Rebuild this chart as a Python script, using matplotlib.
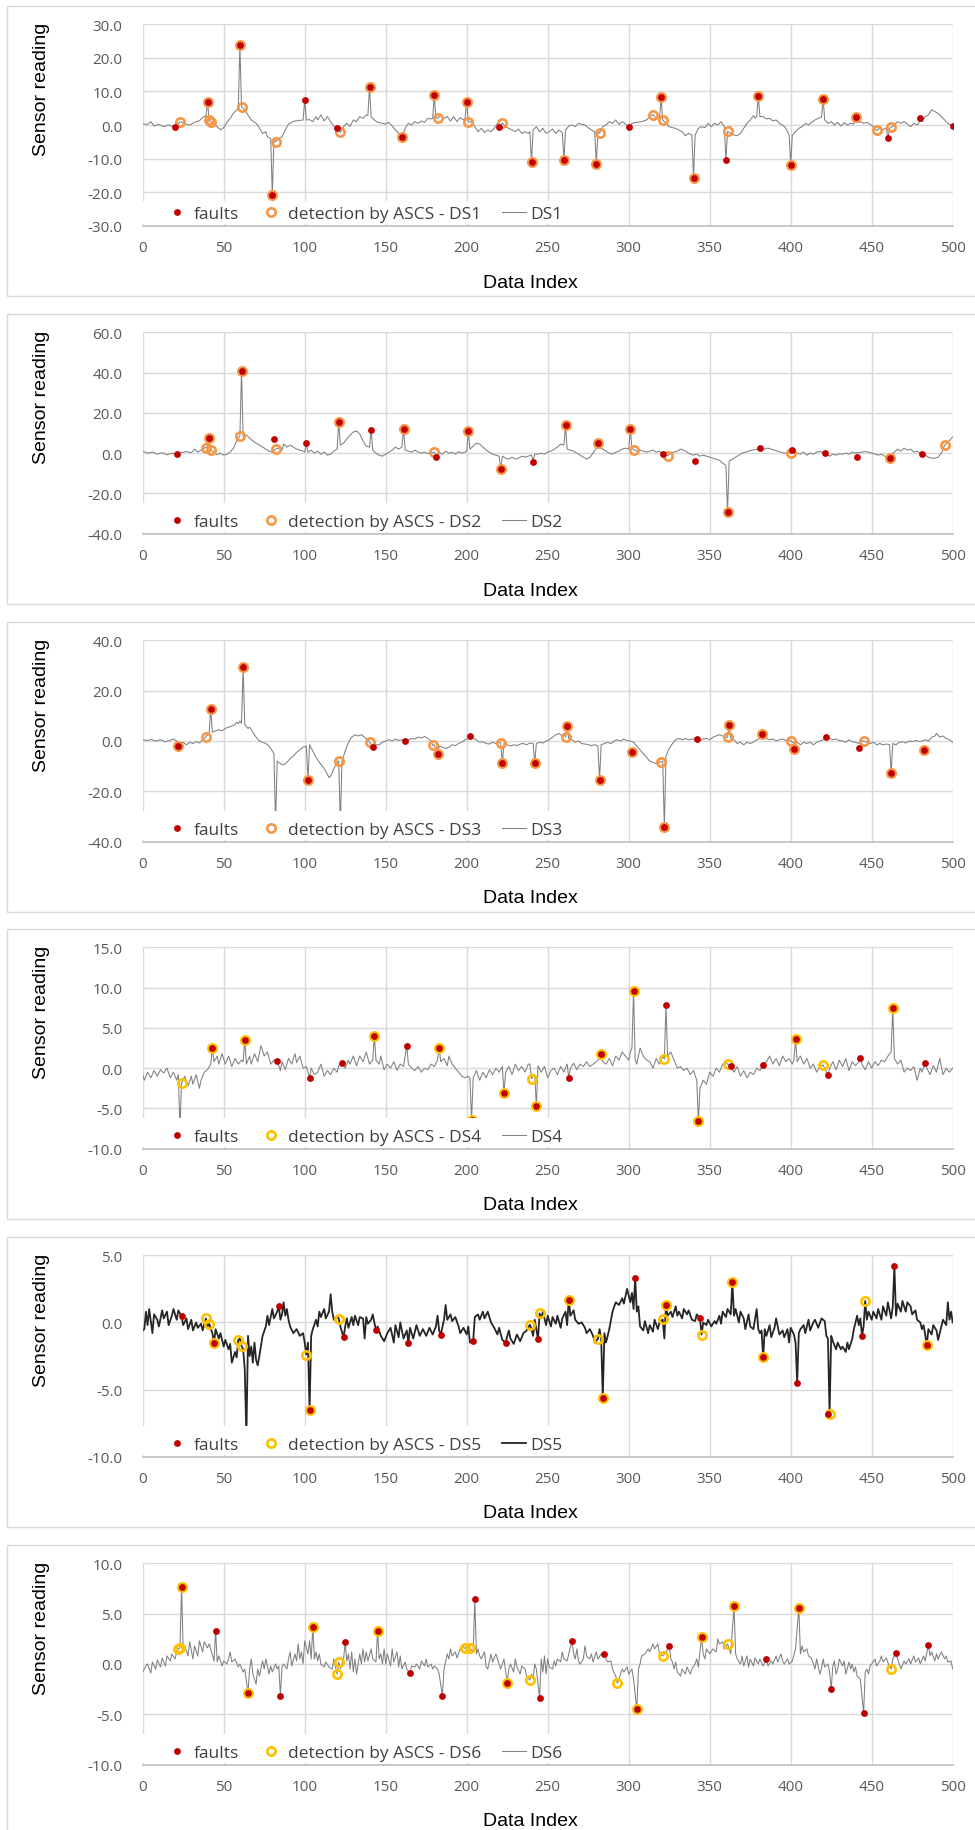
import matplotlib.pyplot as plt
from matplotlib.patches import Rectangle
from matplotlib.lines import Line2D

plt.rcParams['axes.unicode_minus'] = False

# ---------------- data ----------------
x_ticks = list(range(0, 501, 50))

# DS1
ds1_line = [(0,0.3),(3,0.2),(5,1.0),(7,-0.3),(10,0.2),(13,-0.5),(16,0.0),(19,-0.6),(20,-0.5),(22,0.3),(23,1.0),(26,0.4),(29,0.0),(32,0.8),(35,1.3),(37,2.2),(38,2.6),(39,2.4),(40,6.9),(41,1.6),(42,1.0),(44,0.5),(46,-0.6),(48,-1.4),(50,-0.8),(52,0.8),(54,2.0),(56,3.5),(58,4.5),(59,5.0),(60,23.7),(61,5.4),(63,4.5),(65,3.0),(67,1.5),(70,0.5),(72,-0.8),(74,-2.5),(76,-2.0),(77,-3.5),(79,-4.0),(80,-20.8),(81,-4.5),(82,-5.0),(84,-4.0),(86,-3.5),(88,-1.5),(90,0.3),(92,0.8),(94,1.2),(97,1.4),(99,1.5),(100,7.4),(101,1.5),(103,1.6),(105,1.0),(107,2.5),(108,1.5),(110,3.0),(112,1.2),(114,2.5),(116,1.0),(118,-0.3),(120,-1.0),(122,-2.2),(124,-0.5),(126,0.5),(128,-0.4),(130,1.5),(132,1.0),(134,2.5),(136,2.0),(138,3.0),(139,2.8),(140,11.4),(141,2.5),(143,1.5),(145,0.8),(148,0.5),(150,0.3),(152,0.8),(154,-0.3),(156,-1.5),(158,-2.5),(160,-3.5),(162,-1.0),(164,0.5),(166,0.0),(168,1.0),(170,0.5),(172,1.2),(174,0.8),(176,2.0),(178,1.8),(179,2.0),(180,8.8),(181,2.2),(182,2.0),(184,3.0),(186,2.0),(188,2.5),(190,1.2),(192,2.5),(194,1.0),(196,2.2),(198,1.5),(199,2.0),(200,7.0),(201,0.9),(203,1.0),(205,-0.5),(207,-2.0),(209,-1.0),(211,-2.2),(213,-1.5),(215,-2.0),(217,-1.0),(219,0.5),(220,-0.7),(222,0.6),(224,-0.5),(226,-1.0),(228,-1.5),(230,-2.0),(232,-1.2),(234,-2.5),(236,-2.0),(238,-2.5),(239,-2.0),(240,-10.9),(241,-1.5),(243,-0.5),(245,-2.0),(247,-1.0),(249,-2.5),(251,-2.0),(253,-1.2),(255,-2.5),(257,-1.5),(259,-2.2),(260,-10.4),(261,-1.5),(263,-0.3),(265,0.0),(267,-0.5),(269,0.5),(271,0.2),(273,0.0),(275,-0.8),(277,-1.5),(279,-2.0),(280,-11.5),(281,-2.0),(282,-2.4),(284,-0.5),(286,0.0),(288,1.0),(290,0.5),(292,1.5),(294,0.2),(296,1.0),(298,0.3),(300,-0.7),(302,0.5),(305,0.8),(308,1.0),(311,1.5),(313,2.5),(315,3.1),(317,2.0),(319,1.8),(320,8.2),(321,1.5),(323,0.5),(325,-0.5),(327,-0.8),(329,-1.0),(331,-1.5),(333,-2.0),(335,-3.2),(337,-2.5),(339,-3.0),(340,-15.7),(341,-3.0),(343,-1.0),(345,-0.5),(347,-0.8),(349,0.5),(351,-0.5),(353,0.5),(355,0.0),(357,1.0),(359,-0.5),(360,-10.3),(361,-1.9),(363,-2.5),(365,-3.0),(367,-3.2),(369,-2.5),(371,-1.0),(373,0.5),(375,1.5),(377,2.8),(378,2.0),(379,2.5),(380,8.5),(381,2.5),(383,2.5),(385,1.8),(387,2.0),(389,1.2),(391,1.5),(393,0.5),(395,0.0),(397,-1.0),(398,-2.0),(399,-3.0),(400,-11.8),(401,-3.0),(403,-2.0),(405,-1.0),(407,-0.5),(409,0.5),(411,0.0),(413,0.8),(415,1.5),(417,2.0),(419,2.3),(420,7.8),(421,1.5),(423,0.5),(425,1.0),(427,0.0),(429,0.8),(431,-0.3),(433,0.7),(435,0.0),(437,0.5),(439,0.3),(440,2.5),(441,0.8),(443,1.0),(445,0.5),(447,0.8),(449,0.2),(451,-0.5),(453,-1.6),(455,-1.0),(457,-1.5),(459,-0.8),(460,-4.0),(461,-1.0),(462,-0.7),(464,0.0),(466,1.0),(468,0.5),(470,1.0),(472,0.3),(474,-0.5),(476,0.5),(478,0.0),(479,0.5),(480,2.1),(481,1.0),(483,2.5),(485,3.0),(487,4.5),(489,4.0),(491,3.5),(493,2.5),(495,1.5),(497,0.5),(500,-0.3)]
ds1_fault_x = [20,40,60,80,100,120,140,160,180,200,220,240,260,280,300,320,340,360,380,400,420,440,460,480,500]
ds1_fault_y = [-0.5,6.9,23.7,-20.8,7.4,-1.0,11.4,-3.5,8.8,7.0,-0.7,-10.9,-10.4,-11.5,-0.7,8.2,-15.7,-10.3,8.5,-11.8,7.8,2.5,-4.0,2.1,-0.3]
ds1_det_x = [23,40,41,42,60,61,80,82,122,140,160,180,182,200,201,222,240,260,280,282,315,320,321,340,361,380,400,420,440,453,462]
ds1_det_y = [1.0,6.9,1.6,1.0,23.7,5.4,-20.8,-5.0,-2.2,11.4,-3.5,8.8,2.0,7.0,0.9,0.6,-10.9,-10.4,-11.5,-2.4,3.1,8.2,1.5,-15.7,-1.9,8.5,-11.8,7.8,2.5,-1.6,-0.7]

# DS2
ds2_line = [(0,1.0),(3,0.0),(6,0.5),(9,-0.5),(12,0.2),(15,-0.8),(18,0.0),(21,-0.5),(24,0.3),(27,0.8),(30,0.2),(32,2.0),(34,0.5),(36,1.5),(38,2.5),(40,3.0),(41,7.3),(42,1.5),(44,0.5),(46,-0.8),(48,0.0),(50,-1.0),(52,-0.5),(54,0.5),(56,2.5),(58,6.0),(60,8.5),(61,40.8),(62,8.0),(64,9.0),(66,7.5),(68,6.0),(70,5.0),(72,4.0),(74,3.0),(76,2.0),(78,1.0),(80,0.5),(82,2.0),(84,2.5),(86,1.5),(87,4.5),(89,3.0),(91,4.0),(93,3.0),(95,2.0),(97,1.5),(99,1.0),(100,0.5),(101,5.0),(102,0.5),(104,1.5),(106,0.0),(108,1.0),(110,-0.5),(112,0.5),(114,-1.0),(116,-0.5),(118,1.0),(120,2.0),(121,15.6),(122,4.0),(124,5.0),(126,7.0),(128,9.0),(130,10.5),(132,11.0),(134,9.5),(136,6.0),(138,3.5),(140,3.0),(141,11.3),(142,1.5),(144,0.0),(146,-1.0),(148,-1.5),(150,-0.5),(152,0.5),(154,1.5),(156,3.0),(158,2.0),(160,3.0),(161,12.0),(162,1.5),(164,1.0),(166,0.5),(168,1.5),(170,0.5),(172,0.0),(174,0.5),(176,-0.3),(178,0.2),(180,0.5),(181,-1.0),(183,0.5),(185,-0.5),(187,1.0),(189,0.0),(191,0.5),(193,-0.5),(195,0.8),(197,0.0),(199,0.5),(200,1.0),(201,11.0),(202,2.0),(204,3.5),(206,5.0),(208,4.5),(210,3.0),(212,1.5),(214,0.5),(216,-0.5),(218,-1.0),(220,-1.5),(221,-7.8),(222,-1.5),(224,-2.5),(226,-3.0),(228,-2.0),(230,-3.0),(232,-2.5),(234,-1.5),(236,-2.0),(238,-1.5),(240,-1.0),(241,-3.5),(242,-0.5),(244,-0.5),(246,0.0),(248,-0.5),(250,0.5),(252,1.0),(254,2.0),(256,3.0),(258,4.5),(260,4.0),(261,13.8),(262,2.0),(264,1.5),(266,1.0),(268,0.0),(270,-1.0),(272,-2.0),(274,-3.0),(276,-2.0),(278,0.0),(280,2.5),(281,5.2),(282,3.0),(284,2.0),(286,1.0),(288,0.0),(290,-0.5),(292,0.5),(294,1.0),(296,2.0),(298,2.5),(300,2.0),(301,11.8),(302,2.5),(303,1.8),(305,1.0),(307,1.5),(309,1.0),(311,0.5),(313,1.0),(315,1.5),(317,0.5),(319,1.0),(321,-0.3),(323,-1.0),(324,-1.3),(326,0.0),(328,0.5),(330,1.0),(332,2.0),(334,1.5),(336,0.5),(338,-0.5),(340,-1.0),(342,-0.5),(344,-1.5),(346,-1.0),(348,-1.5),(350,-2.0),(352,-2.5),(354,-3.0),(356,-3.5),(358,-5.0),(360,-6.0),(361,-29.2),(362,-4.0),(364,-3.0),(366,-2.0),(368,-1.0),(370,0.0),(372,0.5),(374,1.0),(376,1.5),(378,1.8),(380,2.0),(382,2.2),(384,2.0),(386,2.5),(388,2.0),(390,1.5),(392,1.0),(394,0.5),(396,0.0),(398,0.2),(400,0.0),(402,1.0),(404,0.0),(406,-0.5),(408,0.5),(410,-1.0),(412,0.0),(414,-0.5),(416,0.5),(418,1.0),(420,0.0),(422,-0.5),(424,-1.5),(426,-0.5),(428,-1.0),(430,-0.3),(432,-0.5),(434,0.0),(436,-0.5),(438,0.5),(440,0.0),(442,0.3),(444,0.5),(446,0.8),(448,0.5),(450,0.0),(452,-0.5),(454,-1.0),(456,-0.5),(458,-1.5),(460,-2.0),(461,-2.5),(462,-1.0),(464,0.5),(466,2.0),(468,1.0),(470,2.5),(472,1.5),(474,2.0),(476,0.5),(478,1.0),(480,0.0),(481,-0.5),(483,-1.0),(485,-2.0),(487,-2.5),(489,-2.5),(491,-2.0),(493,0.0),(495,3.8),(497,5.5),(500,8.0)]
ds2_fault_x = [21,41,61,81,101,121,141,161,181,201,221,241,261,281,301,321,341,361,381,401,421,441,461,481]
ds2_fault_y = [-0.5,7.3,40.8,7.0,5.0,15.6,11.3,12.0,-2.0,11.0,-7.8,-4.5,13.8,5.2,11.8,-0.3,-3.8,-29.2,2.7,1.5,0.0,-2.0,-2.5,-0.5]
ds2_det_x = [39,41,42,60,61,82,121,161,180,201,221,261,281,301,303,324,361,400,461,495]
ds2_det_y = [2.5,7.3,1.5,8.5,40.8,2.0,15.6,12.0,0.5,11.0,-7.8,13.8,5.2,11.8,1.8,-1.3,-29.2,0.0,-2.5,3.8]

# DS3
ds3_line = [(0,0.5),(3,0.2),(5,0.6),(8,0.0),(11,0.5),(14,-0.3),(17,0.3),(19,0.8),(21,0.0),(22,-2.1),(23,-1.0),(25,-0.5),(27,-1.5),(29,-0.5),(31,-1.0),(33,-0.3),(35,-0.8),(37,0.5),(39,1.7),(41,3.0),(42,12.7),(43,3.5),(45,4.0),(47,4.5),(49,4.0),(51,5.0),(53,5.5),(55,6.0),(57,6.5),(58,7.5),(59,6.8),(60,8.0),(61,7.0),(62,29.3),(63,6.5),(65,5.0),(66,5.5),(68,3.5),(70,1.5),(72,0.0),(74,-0.5),(76,-1.0),(78,-2.0),(80,-4.0),(81,-5.0),(82,-33.0),(83,-8.0),(85,-9.0),(87,-9.5),(89,-8.5),(91,-7.0),(93,-6.0),(95,-4.5),(97,-3.5),(99,-2.5),(101,-2.0),(102,-15.3),(103,-1.5),(105,-4.0),(107,-6.5),(109,-8.5),(111,-10.0),(113,-12.0),(115,-14.5),(116,-14.0),(118,-11.0),(120,-8.5),(121,-7.9),(122,-34.0),(123,-8.0),(125,-4.0),(127,-0.5),(129,1.5),(131,2.5),(133,2.0),(135,2.5),(137,1.5),(139,0.5),(140,-0.3),(142,-2.4),(144,-1.5),(146,-1.5),(148,-0.5),(150,0.0),(152,0.5),(154,0.0),(156,0.8),(158,0.2),(160,0.5),(162,-0.1),(164,0.5),(166,1.0),(168,0.8),(170,1.5),(172,1.2),(174,1.8),(176,1.0),(178,0.0),(179,-1.7),(180,-1.5),(182,-5.3),(183,-2.0),(185,-2.5),(187,-3.0),(189,-2.5),(191,-1.5),(193,-1.8),(195,-1.0),(197,-0.5),(199,0.5),(201,1.0),(202,1.9),(204,1.0),(206,0.5),(208,-0.5),(210,-0.3),(212,-1.0),(214,-1.2),(216,-0.5),(218,-1.0),(220,-0.5),(221,-0.8),(222,-8.6),(223,-1.0),(225,-1.5),(227,-2.0),(229,-1.5),(231,-1.8),(233,-1.2),(235,-1.0),(237,-1.5),(239,-0.8),(241,-1.0),(242,-8.8),(243,-1.0),(245,-0.5),(247,-0.8),(249,0.0),(251,0.5),(253,1.5),(255,2.5),(257,3.0),(259,2.0),(260,3.0),(261,1.6),(262,5.9),(263,1.0),(265,0.5),(267,-0.5),(269,0.0),(271,-1.0),(273,-1.2),(275,-1.5),(277,-1.8),(279,-1.5),(281,-2.0),(282,-15.3),(283,-1.5),(285,-1.0),(287,-0.5),(289,-1.0),(291,0.0),(293,0.5),(295,0.0),(297,0.8),(299,0.2),(301,0.0),(303,-0.5),(305,-2.0),(307,-3.5),(309,-5.0),(311,-6.5),(313,-8.0),(315,-8.5),(317,-9.0),(318,-8.5),(320,-8.2),(321,-8.0),(322,-34.3),(323,-6.0),(325,-3.0),(327,-1.0),(329,0.5),(331,1.0),(333,0.5),(335,1.0),(337,0.5),(339,0.8),(342,0.7),(344,0.2),(346,0.8),(348,1.0),(350,0.5),(352,1.5),(354,2.0),(356,2.5),(358,2.0),(360,1.5),(361,1.5),(362,6.5),(363,1.0),(365,0.5),(367,-1.0),(369,-0.5),(371,-1.5),(373,-0.5),(375,-1.0),(377,-0.5),(379,0.5),(381,1.0),(382,2.9),(383,1.5),(385,1.0),(387,0.5),(389,0.8),(391,0.0),(393,0.5),(395,0.8),(397,0.2),(399,0.5),(400,0.0),(402,-0.8),(404,-0.5),(406,-1.5),(408,-0.5),(410,-1.0),(412,-0.5),(414,-1.5),(416,-0.5),(418,0.0),(420,0.5),(422,1.6),(424,1.0),(426,0.5),(428,0.8),(430,0.2),(432,0.0),(434,-0.5),(436,0.5),(438,-0.3),(440,-0.5),(442,-1.0),(444,0.0),(445,0.0),(447,-0.5),(449,-1.0),(451,-0.5),(453,-1.5),(455,-1.0),(457,-1.5),(459,-1.2),(461,-1.5),(462,-12.8),(463,-1.0),(465,-1.5),(467,-0.5),(469,-0.3),(471,-0.8),(473,0.0),(475,-0.3),(477,0.2),(479,-0.2),(481,0.0),(483,0.5),(485,0.0),(487,1.5),(489,2.0),(490,3.0),(492,1.5),(494,2.0),(496,1.0),(498,0.5),(500,-0.5)]
ds3_fault_x = [22,42,62,102,142,162,182,202,222,242,262,282,302,322,342,362,382,402,422,442,462,482]
ds3_fault_y = [-2.1,12.7,29.3,-15.3,-2.4,-0.1,-5.3,1.9,-8.6,-8.8,5.9,-15.3,-4.5,-34.3,0.7,6.5,2.9,-3.3,1.6,-2.8,-12.8,-3.5]
ds3_det_x = [22,39,42,62,102,121,140,179,182,221,222,242,261,262,282,302,320,322,361,362,382,400,402,445,462,482]
ds3_det_y = [-2.1,1.7,12.7,29.3,-15.3,-7.9,-0.3,-1.7,-5.3,-0.8,-8.6,-8.8,1.6,5.9,-15.3,-4.5,-8.2,-34.3,1.5,6.5,2.9,0.0,-3.3,0.0,-12.8,-3.5]

# DS4
ds4_line = [(0,-0.8),(1,-1.5),(3,-0.5),(5,-1.2),(7,-0.3),(9,-1.0),(11,-0.2),(13,-0.6),(15,0.0),(17,-1.2),(19,-0.5),(21,-1.5),(22,-0.8),(23,-7.5),(24,-1.9),(26,-1.0),(28,-2.2),(30,-1.0),(31,-2.0),(33,-0.8),(35,-2.5),(36,-1.5),(38,-0.5),(40,-0.2),(42,0.5),(43,2.5),(44,0.8),(46,1.5),(47,0.5),(49,1.8),(51,0.5),(53,1.5),(55,0.2),(57,1.2),(59,0.5),(61,1.0),(62,0.8),(63,3.5),(64,0.5),(66,1.5),(67,0.5),(69,1.8),(71,0.8),(73,2.8),(75,1.5),(77,2.0),(79,0.5),(81,1.0),(83,0.9),(85,-0.3),(86,0.8),(88,-0.2),(90,1.2),(92,0.5),(94,1.8),(95,0.7),(97,1.5),(99,0.0),(101,0.2),(103,-1.2),(104,0.0),(106,-0.8),(108,-0.5),(110,0.5),(112,-1.0),(114,-0.3),(116,-0.8),(118,0.0),(120,-0.5),(121,0.3),(123,0.7),(125,0.0),(127,1.0),(128,0.5),(130,1.5),(132,0.3),(134,1.5),(136,0.8),(138,2.0),(140,0.5),(142,1.0),(143,4.0),(144,1.0),(146,0.5),(147,1.5),(149,-0.2),(151,0.5),(153,0.0),(155,0.8),(157,-0.3),(159,0.5),(161,0.2),(163,2.8),(164,0.5),(166,0.0),(168,-0.3),(170,0.2),(172,-0.5),(174,0.0),(176,-0.2),(178,0.5),(180,0.2),(182,1.0),(183,2.5),(184,0.8),(186,1.2),(188,0.3),(189,1.5),(191,0.5),(193,0.0),(195,-0.5),(197,-1.0),(199,-1.2),(201,-1.0),(202,-1.3),(203,-6.4),(204,-1.2),(206,-0.3),(208,-1.5),(210,-0.5),(212,-1.2),(214,-0.2),(216,-0.8),(218,0.0),(220,-0.5),(222,0.2),(223,-3.1),(224,-0.5),(226,0.2),(228,-0.8),(230,0.5),(232,-0.3),(234,0.2),(236,-0.5),(238,0.5),(239,0.5),(240,-1.3),(242,-0.8),(243,-4.7),(244,0.3),(246,-0.5),(248,0.2),(250,-1.2),(252,-0.3),(254,0.0),(256,-0.8),(258,0.2),(260,-0.5),(262,0.5),(263,-1.2),(264,0.0),(266,0.6),(268,-0.2),(270,0.5),(272,0.2),(274,0.8),(276,0.2),(278,0.5),(280,0.8),(282,1.2),(283,1.8),(284,0.8),(286,0.5),(288,1.2),(290,0.3),(292,1.5),(294,1.0),(296,2.0),(298,1.5),(300,1.0),(301,2.0),(302,2.5),(303,9.6),(304,1.0),(305,0.5),(307,2.5),(309,1.5),(311,1.0),(313,0.8),(315,0.0),(317,1.2),(319,0.5),(321,1.5),(322,1.1),(323,7.8),(324,1.5),(326,2.0),(328,1.0),(330,0.0),(332,0.2),(334,-0.3),(336,0.0),(338,-0.8),(340,-0.3),(342,-1.5),(343,-6.6),(344,-2.5),(346,-1.5),(348,-2.0),(350,-0.5),(352,-1.0),(354,0.0),(356,-0.5),(358,0.5),(360,0.8),(361,0.5),(363,0.3),(365,-0.5),(367,0.2),(369,-1.0),(371,-0.3),(373,-1.2),(375,-0.5),(377,-0.8),(379,0.0),(381,-0.3),(383,0.4),(385,0.8),(387,1.5),(389,0.5),(391,1.2),(393,0.3),(395,1.5),(397,0.8),(399,1.2),(401,0.5),(402,1.0),(403,3.6),(404,0.8),(406,1.5),(408,0.5),(410,1.2),(412,0.0),(414,0.5),(416,-0.5),(418,0.2),(420,0.4),(422,-0.5),(423,-0.9),(424,0.0),(426,0.8),(428,-0.2),(430,1.0),(432,0.2),(434,1.2),(436,-0.3),(438,0.8),(440,0.3),(442,0.8),(443,1.2),(444,0.5),(446,-0.2),(448,0.8),(450,0.0),(452,0.8),(454,0.3),(456,1.0),(458,0.8),(460,1.5),(462,2.0),(463,7.5),(464,1.2),(466,0.5),(468,1.0),(470,-0.5),(472,0.0),(474,-0.3),(476,0.2),(478,-1.5),(480,0.0),(481,-0.5),(483,0.6),(484,0.0),(486,-0.8),(488,0.3),(490,-0.5),(492,1.2),(494,-0.8),(496,0.0),(498,-0.5),(500,0.0)]
ds4_fault_x = [23,43,63,83,103,123,143,163,183,203,223,243,263,283,303,323,343,363,383,403,423,443,463,483]
ds4_fault_y = [-7.5,2.5,3.5,0.9,-1.2,0.7,4.0,2.8,2.5,-6.4,-3.1,-4.7,-1.2,1.8,9.6,7.8,-6.6,0.3,0.4,3.6,-0.9,1.2,7.5,0.6]
ds4_det_x = [24,43,63,143,183,203,223,240,243,283,303,322,343,361,403,420,463]
ds4_det_y = [-1.9,2.5,3.5,4.0,2.5,-6.4,-3.1,-1.3,-4.7,1.8,9.6,1.1,-6.6,0.5,3.6,0.4,7.5]

# DS5
ds5_line = [(0,-0.6),(1,-0.5),(2,0.8),(3,-0.2),(4,1.0),(6,-0.8),(7,0.6),(9,0.2),(10,-0.3),(12,0.9),(13,0.3),(15,0.8),(16,-0.2),(18,0.5),(19,1.0),(21,0.2),(22,0.9),(24,0.45),(25,-0.2),(27,0.3),(28,-0.5),(30,0.2),(31,-0.6),(33,0.0),(34,-0.4),(36,-0.1),(37,-0.6),(39,0.3),(40,-0.3),(41,-0.1),(43,-0.8),(44,-1.5),(45,-0.5),(47,-1.2),(48,-0.8),(50,-1.8),(51,-1.3),(53,-2.0),(54,-1.6),(55,-3.0),(57,-2.2),(58,-2.6),(59,-1.3),(60,-1.2),(61,-1.75),(62,-2.0),(63,-3.5),(64,-8.5),(65,-1.0),(66,-2.5),(67,-1.8),(68,-3.0),(69,-1.5),(70,-2.8),(71,-3.2),(72,-2.5),(74,-1.0),(76,-0.3),(77,0.5),(78,-0.2),(80,1.0),(81,0.3),(83,0.8),(84,1.2),(85,0.2),(86,0.6),(87,1.5),(88,0.5),(89,1.0),(90,0.2),(91,-0.3),(93,-0.8),(95,-0.5),(97,-1.0),(99,-0.8),(100,-1.5),(101,-2.4),(102,-1.5),(103,-6.5),(104,-1.0),(105,-0.5),(107,0.2),(108,-0.3),(109,0.8),(110,0.4),(112,1.0),(113,0.3),(115,0.8),(116,2.1),(117,0.8),(118,0.2),(120,0.5),(121,0.27),(122,-0.3),(124,-1.1),(125,-0.3),(126,0.3),(127,-0.4),(129,0.4),(130,-0.2),(131,0.5),(133,-0.2),(134,0.4),(136,0.3),(137,-1.2),(138,0.4),(139,-0.1),(141,0.2),(142,0.6),(144,-0.6),(145,-0.3),(147,-1.0),(149,-1.4),(151,-0.8),(153,-0.4),(155,-1.5),(156,-0.2),(158,-1.1),(159,0.0),(161,-1.2),(163,-0.6),(164,-1.5),(165,-0.4),(167,-1.2),(169,-0.2),(171,-1.0),(173,-0.5),(175,-1.0),(177,-0.4),(179,-0.9),(181,-0.3),(182,0.5),(183,-0.6),(184,-0.9),(186,0.2),(187,1.3),(188,0.2),(190,0.6),(191,0.1),(193,0.4),(195,-0.3),(196,-0.8),(198,-0.4),(200,-0.9),(201,-0.3),(202,-1.5),(204,-1.4),(205,0.4),(207,0.6),(208,0.2),(210,0.8),(211,0.3),(213,0.8),(215,0.0),(217,-0.4),(219,-0.9),(220,-0.4),(222,-1.3),(224,-1.5),(226,-0.6),(227,-1.2),(229,-1.6),(231,-0.9),(233,-1.4),(235,-0.8),(237,-0.6),(239,-0.17),(240,-0.5),(241,-1.0),(242,0.2),(244,-1.25),(245,0.67),(246,0.3),(247,0.8),(249,-0.2),(250,0.5),(252,-0.3),(253,0.4),(255,-0.1),(256,0.5),(258,-0.4),(259,0.3),(261,0.8),(262,-0.2),(263,1.7),(264,0.5),(266,0.9),(267,0.2),(269,-0.1),(271,0.0),(273,-0.4),(274,-0.8),(276,-0.5),(278,-1.0),(279,-1.5),(281,-1.23),(282,-0.5),(283,-1.2),(284,-5.6),(285,-0.8),(286,-1.5),(288,-0.5),(290,0.8),(292,1.5),(294,1.3),(296,1.8),(297,1.4),(299,2.5),(300,2.0),(301,1.5),(302,2.2),(303,1.0),(304,3.3),(305,0.8),(306,1.2),(307,-0.3),(309,-0.6),(310,0.1),(312,-0.8),(313,-0.2),(315,-0.7),(316,0.2),(318,-0.5),(319,0.0),(321,0.22),(322,-1.2),(323,1.3),(324,0.5),(326,0.8),(327,0.4),(329,1.2),(330,0.5),(331,0.8),(333,0.3),(334,1.0),(336,0.6),(337,0.9),(339,0.2),(341,0.1),(342,0.6),(344,0.3),(345,-0.9),(346,0.0),(348,-0.2),(349,0.2),(351,-0.3),(353,0.1),(354,-0.1),(356,0.5),(357,-0.1),(358,0.8),(360,0.4),(361,1.0),(363,0.6),(364,3.0),(365,0.5),(366,1.0),(368,0.0),(369,0.8),(371,0.3),(372,-0.5),(374,0.6),(375,-0.3),(377,-0.5),(379,1.0),(380,-0.5),(381,-0.8),(382,-0.6),(383,-2.6),(384,-0.5),(385,-1.0),(387,-0.2),(388,-1.1),(390,-0.4),(391,0.3),(393,-0.9),(395,-0.6),(396,-1.1),(398,-0.5),(399,-1.5),(400,-0.4),(402,-0.9),(403,-1.5),(404,-4.5),(405,-0.8),(406,-0.5),(408,-0.2),(409,-0.8),(411,0.2),(412,-0.6),(414,0.0),(415,0.2),(417,-0.4),(419,0.3),(421,0.1),(422,-1.0),(423,-1.2),(424,-6.8),(425,-1.0),(426,-1.4),(428,-2.0),(429,-1.5),(431,-2.0),(432,-1.8),(434,-2.2),(435,-1.5),(436,-2.0),(438,-1.2),(439,-0.5),(441,0.5),(442,-0.2),(443,0.3),(444,-1.0),(445,-0.3),(446,1.6),(447,0.2),(448,0.8),(450,0.2),(451,0.8),(453,0.3),(454,1.0),(456,0.2),(457,1.2),(459,0.5),(460,1.5),(462,0.3),(463,1.2),(464,4.2),(465,0.5),(466,1.4),(468,0.8),(469,1.6),(471,0.8),(472,1.5),(474,1.2),(475,0.6),(477,0.9),(478,0.2),(480,0.0),(481,-0.5),(482,-0.2),(483,-0.9),(484,-1.7),(485,-0.5),(487,-0.9),(488,-0.2),(490,-0.6),(491,-1.3),(493,-0.3),(494,0.2),(496,-0.2),(497,1.5),(498,0.2),(499,0.8),(500,0.0)]
ds5_fault_x = [24,44,64,84,103,124,144,164,184,204,224,244,263,284,304,323,344,364,383,404,423,444,464,484]
ds5_fault_y = [0.45,-1.5,-8.5,1.2,-6.5,-1.1,-0.6,-1.5,-0.9,-1.4,-1.5,-1.25,1.7,-5.6,3.3,1.3,0.3,3.0,-2.6,-4.5,-6.8,-1.0,4.2,-1.7]
ds5_det_x = [39,41,44,59,61,101,103,121,239,245,263,281,284,321,323,345,364,383,424,446,484]
ds5_det_y = [0.3,-0.1,-1.5,-1.3,-1.75,-2.4,-6.5,0.27,-0.17,0.67,1.7,-1.23,-5.6,0.22,1.3,-0.9,3.0,-2.6,-6.8,1.6,-1.7]

# DS6
ds6_line = [(0,-0.8),(2,-0.2),(3,0.0),(5,-0.9),(6,0.2),(8,-0.5),(9,0.4),(11,-0.3),(12,0.6),(14,-0.2),(15,0.8),(17,0.3),(18,1.0),(20,0.5),(21,1.2),(22,1.5),(23,1.6),(24,7.6),(25,1.2),(26,1.8),(28,0.8),(29,2.2),(31,0.5),(32,1.8),(34,0.8),(35,2.3),(37,1.2),(38,2.2),(40,1.6),(41,2.0),(43,0.9),(44,0.3),(45,3.25),(46,0.2),(47,0.8),(49,-0.2),(50,0.3),(52,0.0),(53,0.5),(54,1.2),(55,0.2),(57,0.5),(59,-0.3),(60,0.0),(62,-0.8),(63,-0.5),(65,-2.9),(66,-0.5),(67,0.5),(68,-1.0),(70,-2.0),(71,-0.5),(72,-1.2),(74,0.3),(75,-0.5),(76,0.5),(78,-1.0),(79,-0.2),(80,-0.8),(82,0.0),(83,-0.5),(84,-0.2),(85,-3.15),(86,-0.3),(87,0.0),(89,-0.5),(90,0.5),(91,1.2),(92,-0.2),(94,1.0),(95,0.3),(96,2.0),(97,0.5),(98,1.2),(99,0.0),(100,2.3),(102,1.0),(103,2.3),(104,0.5),(105,3.7),(106,0.5),(107,1.2),(108,0.3),(109,1.0),(110,0.0),(112,-0.3),(113,0.2),(115,-0.3),(117,-0.5),(118,0.5),(120,-1.0),(121,0.2),(122,-0.5),(124,0.5),(125,2.2),(126,0.3),(127,1.0),(128,-0.5),(129,1.2),(130,-0.8),(131,0.5),(132,-1.0),(134,1.0),(135,0.0),(136,1.5),(137,0.2),(138,1.2),(139,0.3),(141,1.5),(142,0.5),(144,0.2),(145,3.25),(146,0.5),(147,1.0),(148,0.0),(149,1.5),(150,0.0),(151,1.0),(153,-0.2),(154,1.5),(155,0.2),(157,1.2),(158,-0.3),(159,0.8),(160,-0.5),(162,0.2),(163,-0.5),(165,-0.9),(166,-0.2),(168,-0.3),(169,0.0),(171,-0.5),(172,0.3),(174,-0.2),(175,0.5),(176,-0.3),(178,0.0),(179,-0.5),(180,-0.2),(182,-0.5),(183,-1.0),(185,-3.15),(186,-0.5),(187,0.2),(188,1.0),(189,0.5),(190,1.5),(191,0.8),(193,1.2),(194,0.6),(196,1.5),(197,1.8),(199,1.55),(200,1.8),(202,1.55),(204,1.2),(205,6.45),(206,1.0),(207,1.5),(208,0.8),(209,0.5),(211,1.2),(212,-0.3),(213,-0.5),(215,1.0),(216,0.2),(218,1.0),(219,0.5),(220,0.0),(221,-0.5),(223,0.5),(225,-1.9),(226,-0.5),(227,0.0),(229,-0.8),(230,0.5),(231,-0.3),(233,-1.0),(234,-0.2),(236,-0.5),(237,-1.2),(239,-1.6),(240,-1.0),(241,-1.5),(242,0.0),(243,-0.5),(245,-3.4),(246,0.5),(247,-0.8),(248,0.8),(249,-1.0),(250,0.5),(251,-0.3),(253,-0.5),(254,0.3),(255,-0.2),(256,0.5),(258,0.2),(259,1.2),(260,0.5),(262,0.3),(263,1.0),(265,2.3),(266,1.0),(267,0.5),(268,1.5),(269,0.3),(270,0.0),(272,0.5),(273,1.8),(274,0.8),(276,0.5),(277,1.0),(278,0.2),(280,1.2),(281,0.5),(283,1.0),(285,1.0),(286,0.5),(287,0.2),(289,0.3),(290,-0.5),(292,-1.2),(293,-1.9),(294,-1.5),(296,-0.5),(297,-0.8),(299,-0.3),(300,-1.0),(302,-0.5),(303,-1.5),(305,-4.5),(306,-0.5),(307,0.0),(308,0.8),(310,1.0),(312,1.5),(313,1.2),(315,2.0),(316,1.5),(318,2.0),(319,1.0),(321,0.8),(323,1.2),(325,1.8),(326,0.5),(327,0.2),(328,-0.5),(329,0.2),(330,-0.8),(332,-1.2),(333,-0.5),(335,-1.0),(336,-0.3),(338,-1.0),(339,-0.5),(341,0.0),(342,0.5),(343,-0.3),(345,2.65),(346,1.0),(347,0.5),(348,1.5),(350,1.0),(352,1.5),(354,1.2),(355,2.5),(356,2.0),(358,2.2),(359,1.5),(361,2.0),(362,1.5),(363,1.0),(365,5.8),(366,1.0),(367,0.5),(369,0.0),(370,0.8),(371,-0.2),(373,0.8),(374,-0.3),(375,0.5),(377,-0.2),(378,0.6),(380,0.0),(381,0.5),(383,-0.2),(385,0.5),(386,-0.2),(388,0.3),(389,0.0),(391,0.8),(392,0.2),(394,1.0),(395,0.3),(396,0.0),(398,0.5),(399,0.0),(401,0.3),(403,1.5),(405,5.6),(406,1.0),(407,1.8),(408,1.2),(410,1.5),(411,0.8),(413,0.5),(414,0.0),(415,-0.5),(416,0.5),(418,-1.0),(419,-0.5),(420,0.5),(421,-0.3),(423,0.0),(424,-0.8),(425,-2.5),(426,-0.2),(427,0.3),(428,-1.0),(429,-0.5),(430,0.5),(432,-0.2),(433,0.3),(434,-1.0),(436,0.2),(437,-0.5),(438,0.0),(439,-0.8),(440,-0.3),(441,-1.2),(443,-1.5),(445,-4.9),(446,-0.8),(447,-0.5),(448,-1.0),(449,-0.2),(450,0.0),(452,0.5),(453,-0.2),(455,0.3),(456,0.8),(457,0.2),(459,0.6),(461,-0.3),(462,-0.5),(463,0.5),(465,1.1),(466,0.5),(467,0.0),(468,-0.5),(470,0.3),(471,0.0),(473,0.5),(474,0.0),(476,0.8),(477,0.2),(479,0.6),(480,0.0),(482,0.8),(483,0.3),(485,1.9),(486,0.8),(487,1.2),(489,0.3),(490,1.0),(491,0.5),(493,1.2),(495,0.5),(496,0.8),(497,0.2),(499,0.3),(500,-0.5)]
ds6_fault_x = [24,45,65,85,105,125,145,165,185,205,225,245,265,285,305,325,345,365,385,405,425,445,465,485]
ds6_fault_y = [7.6,3.25,-2.9,-3.15,3.7,2.2,3.25,-0.9,-3.15,6.45,-1.9,-3.4,2.3,1.0,-4.5,1.8,2.65,5.8,0.5,5.6,-2.5,-4.9,1.1,1.9]
ds6_det_x = [22,23,24,65,105,120,121,145,199,202,225,239,293,305,321,345,361,365,405,462]
ds6_det_y = [1.5,1.6,7.6,-2.9,3.7,-1.0,0.2,3.25,1.55,1.55,-1.9,-1.6,-1.9,-4.5,0.8,2.65,2.0,5.8,5.6,-0.5]

names = ['DS1', 'DS2', 'DS3', 'DS4', 'DS5', 'DS6']
y_ranges = [(-30, 30, 10), (-40, 60, 20), (-40, 40, 20), (-10, 15, 5), (-10, 5, 5), (-10, 10, 5)]

panels = [
    (ds1_line, ds1_fault_x, ds1_fault_y, ds1_det_x, ds1_det_y),
    (ds2_line, ds2_fault_x, ds2_fault_y, ds2_det_x, ds2_det_y),
    (ds3_line, ds3_fault_x, ds3_fault_y, ds3_det_x, ds3_det_y),
    (ds4_line, ds4_fault_x, ds4_fault_y, ds4_det_x, ds4_det_y),
    (ds5_line, ds5_fault_x, ds5_fault_y, ds5_det_x, ds5_det_y),
    (ds6_line, ds6_fault_x, ds6_fault_y, ds6_det_x, ds6_det_y),
]

# ---------------- style ----------------
W, H = 975, 1831
tops = [7, 315, 623, 930, 1238, 1546]
ring_colors = ['#F79646'] * 3 + ['#FFC000'] * 3
line_colors = ['#808080'] * 4 + ['#262626', '#808080']
line_widths = [0.75] * 4 + [1.3, 0.75]
mask_heights = [0.118, 0.148, 0.148, 0.148, 0.148, 0.148]
fault_color = '#C00000'
tick_font = 'Open Sans'
label_font = 'Liberation Sans'
ring_ms, ring_mew = 6.0, 1.9
dot_ms = 4.9

fig = plt.figure(figsize=(W / 100, H / 100), dpi=100)

for i, (line, fx, fy, dx, dy) in enumerate(panels):
    T = tops[i]
    lo, hi, step = y_ranges[i]

    # chart frame
    fig.patches.append(Rectangle((7 / W, 1 - (T + 290) / H), (W + 20) / W, 290 / H,
                                 transform=fig.transFigure, fill=False,
                                 edgecolor='#D9D9D9', lw=1))

    ax = fig.add_axes([142.7 / W, 1 - (T + 219.7) / H, 810 / W, 201.4 / H])
    xs, ys = zip(*line)
    ax.plot(xs, ys, color=line_colors[i], lw=line_widths[i], zorder=2)
    ax.plot(dx, dy, ls='none', marker='o', mfc='none', mec=ring_colors[i],
            ms=ring_ms, mew=ring_mew, zorder=3)
    ax.plot(fx, fy, ls='none', marker='o', color=fault_color, ms=dot_ms, mew=0, zorder=4)

    ax.set_xlim(0, 500)
    ax.set_ylim(lo, hi)
    ax.set_xticks(x_ticks)
    yt = list(range(lo, hi + 1, step))
    ax.set_yticks(yt)
    ax.set_yticklabels([f"{v:.1f}" for v in yt])
    ax.set_xticklabels([str(v) for v in x_ticks])
    ax.grid(True, color='#D9D9D9', lw=1)
    ax.set_axisbelow(True)
    for s in ['top', 'right', 'left']:
        ax.spines[s].set_visible(False)
    ax.spines['bottom'].set_color('#BFBFBF')
    ax.spines['bottom'].set_linewidth(1.2)
    ax.tick_params(length=0, colors='#595959', labelsize=11)
    ax.tick_params(axis='y', pad=14.5)
    ax.tick_params(axis='x', pad=10)
    for lab in ax.get_xticklabels() + ax.get_yticklabels():
        lab.set_family(tick_font)

    # white area behind the legend
    ax.add_patch(Rectangle((0, 0.006), 0.51, mask_heights[i], transform=ax.transAxes,
                           facecolor='white', edgecolor='none', zorder=5))
    handles = [
        Line2D([], [], ls='none', marker='o', color=fault_color, ms=dot_ms, mew=0),
        Line2D([], [], ls='none', marker='o', mfc='none', mec=ring_colors[i],
               ms=ring_ms, mew=ring_mew),
        Line2D([], [], color=line_colors[i], lw=line_widths[i]),
    ]
    leg = ax.legend(handles, ['faults', 'detection by ASCS - ' + names[i], names[i]],
                    loc='center left', bbox_to_anchor=(0.0275, 0.058), ncol=3,
                    frameon=False, borderpad=0, borderaxespad=0, handlelength=1.38,
                    handletextpad=0.25, columnspacing=1.2,
                    prop={'family': tick_font, 'size': 12.5})
    for t in leg.get_texts():
        t.set_color('#404040')
    leg.set_zorder(6)

    fig.text(42 / W, 1 - (T + 82) / H, 'Sensor reading', rotation=90, ha='center',
             va='center', fontsize=14, family=label_font, color='black')
    fig.text(530 / W, 1 - (T + 276) / H, 'Data Index', ha='center', va='center',
             fontsize=14, family=label_font, color='black')

fig.savefig('out.png', dpi=100)
